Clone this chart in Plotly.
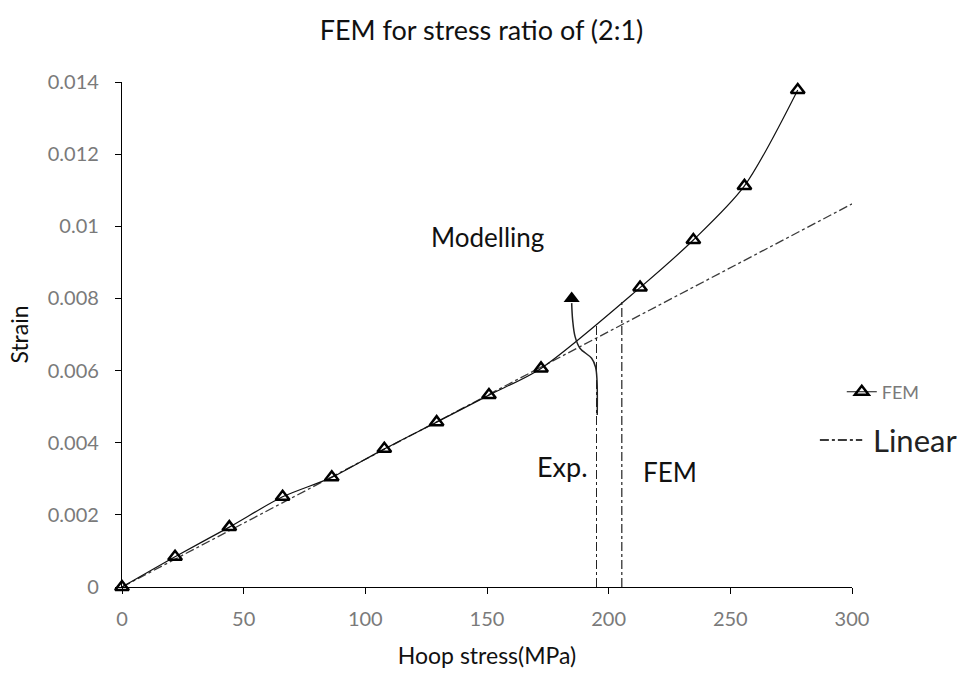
import plotly.graph_objects as go

# FEM data (Hoop stress MPa, strain)
fem_x = [0, 21.8, 44.1, 66.0, 86.2, 107.8, 129.3, 150.8, 172.2, 212.9, 234.8, 255.8, 277.7]
fem_y = [0, 0.00084, 0.00166, 0.00250, 0.00304, 0.00383, 0.00457, 0.00532, 0.00606, 0.00830, 0.00962, 0.01112, 0.01378]

# Linear reference line
lin_x = [0, 300]
lin_y = [0, 0.01062]

# Vertical marker lines
exp_x = [195, 195]
exp_y = [0, 0.00729]
femv_x = [205.4, 205.4]
femv_y = [0, 0.00791]

# Curved arrow path
arr_x = [195.3, 195.2, 194.6, 193.0, 188.2, 186.2, 185.2, 184.8]
arr_y = [0.00477, 0.00574, 0.00610, 0.00634, 0.00662, 0.00694, 0.00740, 0.00787]
head_x = [184.8]
head_y = [0.00800]

FONT = "Lato"
TICK_COLOR = "#7a7a7a"
TEXT_COLOR = "#111111"

fig = go.Figure()

fig.add_trace(go.Scatter(
    x=lin_x, y=lin_y, mode="lines",
    line=dict(color="#3a3a3a", width=1.3, dash="dashdot"),
    name="Linear", showlegend=False,
))
fig.add_trace(go.Scatter(
    x=fem_x, y=fem_y, mode="lines+markers", cliponaxis=False,
    line=dict(color="#111111", width=1.2, shape="spline", smoothing=0.8),
    marker=dict(symbol="triangle-up-open", size=12, color="black", line=dict(width=2.5, color="black")),
    name="FEM",
))
fig.add_trace(go.Scatter(
    x=exp_x, y=exp_y, mode="lines",
    line=dict(color="#222222", width=1, dash="dashdot"), showlegend=False,
))
fig.add_trace(go.Scatter(
    x=femv_x, y=femv_y, mode="lines",
    line=dict(color="#222222", width=1.2, dash="dashdot"), showlegend=False,
))
fig.add_trace(go.Scatter(
    x=arr_x, y=arr_y, mode="lines",
    line=dict(color="#222222", width=1.5, shape="spline", smoothing=1), showlegend=False,
))
fig.add_trace(go.Scatter(
    x=head_x, y=head_y, mode="markers",
    marker=dict(symbol="triangle-up", size=14, color="black"), showlegend=False,
))

fig.add_annotation(x=150, y=0.0097, text="Modelling", showarrow=False,
                   font=dict(family=FONT, size=26, color=TEXT_COLOR))
fig.add_annotation(x=181, y=0.00333, text="Exp.", showarrow=False,
                   font=dict(family=FONT, size=27, color=TEXT_COLOR))
fig.add_annotation(x=225, y=0.00319, text="FEM", showarrow=False,
                   font=dict(family=FONT, size=26, color=TEXT_COLOR))

# Manual legend entry for the Linear line (larger, darker text as in the original)
fig.add_shape(type="line", xref="paper", yref="paper", x0=0.956, x1=1.014, y0=0.291, y1=0.291,
              line=dict(color="#3a3a3a", width=2, dash="dashdot"))
fig.add_annotation(xref="paper", yref="paper", x=1.026, y=0.291, xanchor="left", yanchor="middle",
                   text="Linear", showarrow=False,
                   font=dict(family=FONT, size=31, color="#222222"))

fig.update_layout(
    width=963, height=677,
    paper_bgcolor="white", plot_bgcolor="white",
    margin=dict(l=122, r=111, t=82, b=90),
    title=dict(text="FEM for stress ratio of (2:1)", x=0.5, xanchor="center", y=0.955, yanchor="middle",
               font=dict(family=FONT, size=27, color=TEXT_COLOR)),
    font=dict(family=FONT),
    legend=dict(x=0.986, y=0.386, xanchor="left", yanchor="middle",
                font=dict(family=FONT, size=18, color=TICK_COLOR),
                bgcolor="rgba(0,0,0,0)"),
    showlegend=True,
)
fig.update_xaxes(
    range=[0, 300], tickvals=[0, 50, 100, 150, 200, 250, 300],
    showline=True, linecolor="black", linewidth=1.2, ticks="outside", ticklen=6, tickcolor="black",
    showgrid=False, zeroline=False, ticklabelstandoff=8,
    tickfont=dict(family=FONT, size=20, color=TICK_COLOR),
    title=dict(text="Hoop stress(MPa)", font=dict(family=FONT, size=23, color=TEXT_COLOR), standoff=18),
)
fig.update_yaxes(
    range=[0, 0.014], tickvals=[0, 0.002, 0.004, 0.006, 0.008, 0.01, 0.012, 0.014],
    ticktext=["0", "0.002", "0.004", "0.006", "0.008", "0.01", "0.012", "0.014"],
    showline=True, linecolor="black", linewidth=1.2, ticks="outside", ticklen=6, tickcolor="black",
    showgrid=False, zeroline=False, ticklabelstandoff=12,
    tickfont=dict(family=FONT, size=20, color=TICK_COLOR),
    title=dict(text="Strain", font=dict(family=FONT, size=23, color=TEXT_COLOR), standoff=12),
)

fig.write_html("out.html")
